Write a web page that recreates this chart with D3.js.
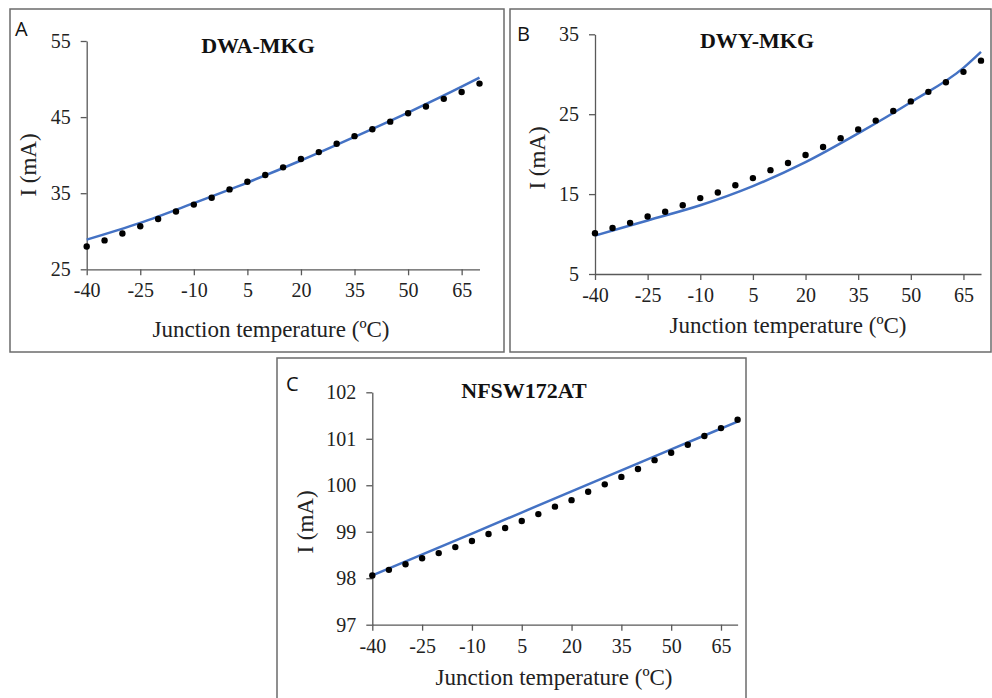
<!DOCTYPE html>
<html>
<head>
<meta charset="utf-8">
<script src="https://cdn.jsdelivr.net/npm/d3@7"></script>
<style>
  body { margin: 0; background: #fff; }
  svg { display: block; }
</style>
</head>
<body>
<svg id="chart" width="992" height="698"></svg>
<script>
// measured temperatures (every 5 degC)
var temps = [-40,-35,-30,-25,-20,-15,-10,-5,0,5,10,15,20,25,30,35,40,45,50,55,60,65,70]
var xTicks = [-40,-25,-10,5,20,35,50,65]

// panel A - DWA-MKG
var measA = [28.0,28.8,29.7,30.65,31.6,32.6,33.5,34.4,35.5,36.5,37.4,38.4,39.5,40.4,41.5,42.5,43.4,44.4,45.5,46.4,47.4,48.3,49.4]
var fitTA = [-40,-25,-10,5,20,35,50,65,70]
var fitA  = [28.9,31.1,33.7,36.4,39.3,42.4,45.6,49.0,50.2]
var yTicksA = [25,35,45,55]

// panel B - DWY-MKG
var measB = [10.1,10.76,11.4,12.2,12.8,13.6,14.5,15.2,16.1,17.0,18.0,18.9,19.9,20.9,22.0,23.1,24.2,25.4,26.6,27.8,29.0,30.3,31.7]
var fitTB = [-40,-25,-10,5,20,35,50,65,70]
var fitB  = [9.8,11.7,13.6,16.0,19.0,22.6,26.5,30.8,32.8]
var yTicksB = [5,15,25,35]

// panel C - NFSW172AT
var measC = [98.06,98.18,98.30,98.43,98.54,98.67,98.80,98.95,99.08,99.23,99.38,99.54,99.68,99.86,100.02,100.18,100.35,100.54,100.70,100.87,101.06,101.23,101.41]
var fitTC = [-40,-10,20,50,70]
var fitC  = [98.06,98.96,99.87,100.77,101.37]
var yTicksC = [97,98,99,100,101,102]

var svg = d3.select("#chart")
var serif = "'Liberation Serif', 'Times New Roman', serif"
var plain = d => String(d)   // keep hyphen minus like the original

function drawPanel(p) {
    var g = svg.append("g")

    //frame
    g.append("rect")
        .attr("x", p.frame[0]).attr("y", p.frame[1])
        .attr("width", p.frame[2] - p.frame[0]).attr("height", p.frame[3] - p.frame[1])
        .attr("fill", "none").attr("stroke", "#6b6b6b").attr("stroke-width", 1.5)

    var xScale = d3.scaleLinear().domain([-40, 70]).range(p.xr)
    var yScale = d3.scaleLinear().domain(p.yd).range(p.yr)

    var xAxis = g.append("g")
        .attr("transform", `translate(0,${p.yr[0]})`)
        .call(d3.axisBottom(xScale).tickValues(xTicks).tickFormat(plain)
            .tickSize(6).tickSizeOuter(0).tickPadding(8))
    var yAxis = g.append("g")
        .attr("transform", `translate(${p.xr[0]},0)`)
        .call(d3.axisLeft(yScale).tickValues(p.yt).tickFormat(plain)
            .tickSize(6).tickSizeOuter(0).tickPadding(10))

    ;[xAxis, yAxis].forEach(function(a) {
        a.attr("font-family", null).attr("font-size", null)
        a.selectAll(".domain, .tick line").attr("stroke", "#595959").attr("stroke-width", 1.3)
        a.selectAll(".tick text")
            .style("font-family", serif).style("font-size", "20px").style("fill", "#222")
    })

    //fitted curve
    var fit = p.fitT.map((t, i) => [t, p.fit[i]])
    g.append("path")
        .datum(fit)
        .attr("fill", "none")
        .attr("stroke", "#4472C4")
        .attr("stroke-width", 2.5)
        .attr("d", d3.line().x(d => xScale(d[0])).y(d => yScale(d[1])).curve(d3.curveMonotoneX))

    //measured dots
    g.selectAll("circle.m")
        .data(temps.map((t, i) => [t, p.meas[i]]))
        .enter()
        .append("circle")
        .attr("cx", d => xScale(d[0]))
        .attr("cy", d => yScale(d[1]))
        .attr("r", 3.2)
        .attr("fill", "#000")

    //title
    g.append("text")
        .attr("x", p.title[1]).attr("y", p.title[2])
        .attr("text-anchor", "middle")
        .style("font-family", serif).style("font-weight", "bold").style("font-size", "22px")
        .style("fill", "#111")
        .text(p.title[0])

    //panel letter
    g.append("text")
        .attr("x", p.letter[1]).attr("y", p.letter[2])
        .style("font-family", "'Open Sans', 'Liberation Sans', sans-serif").style("font-size", "20px")
        .style("fill", "#111")
        .text(p.letter[0])

    //axis titles
    g.append("text")
        .attr("x", p.xlab[0]).attr("y", p.xlab[1])
        .attr("text-anchor", "middle")
        .style("font-family", serif).style("font-size", "23px").style("fill", "#222")
        .text("Junction temperature (ºC)")
    g.append("text")
        .attr("transform", `translate(${p.ylab[0]},${p.ylab[1]}) rotate(-90)`)
        .attr("text-anchor", "middle")
        .style("font-family", serif).style("font-size", "23px").style("fill", "#222")
        .text("I (mA)")
}

drawPanel({
    frame: [10, 9, 504, 352],
    xr: [86.7, 479.5], yr: [269.3, 41], yd: [25, 55], yt: yTicksA,
    meas: measA, fitT: fitTA, fit: fitA,
    title: ["DWA-MKG", 258, 53], letter: ["A", 15, 36],
    xlab: [271, 337], ylab: [36, 165]
})

drawPanel({
    frame: [510, 9, 991, 352],
    xr: [595, 981], yr: [274, 34.3], yd: [5, 35], yt: yTicksB,
    meas: measB, fitT: fitTB, fit: fitB,
    title: ["DWY-MKG", 757, 48], letter: ["B", 517, 41],
    xlab: [788, 333], ylab: [545, 158]
})

drawPanel({
    frame: [277, 358, 746, 705],
    xr: [372.3, 737.6], yr: [624.7, 392.3], yd: [97, 102], yt: yTicksC,
    meas: measC, fitT: fitTC, fit: fitC,
    title: ["NFSW172AT", 524, 398], letter: ["C", 286, 391],
    xlab: [554, 685], ylab: [313, 522]
})
</script>
</body>
</html>
